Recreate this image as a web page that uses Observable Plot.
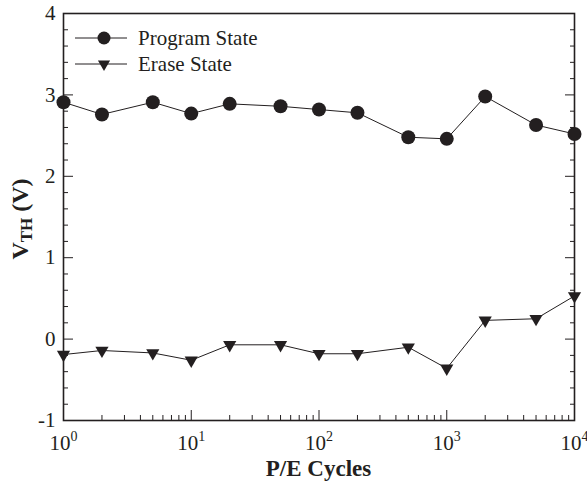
<!DOCTYPE html>
<html><head><meta charset="utf-8">
<script src="https://cdn.jsdelivr.net/npm/d3@7"></script>
<script src="https://cdn.jsdelivr.net/npm/@observablehq/plot@0.6"></script>
<style>html,body{margin:0;padding:0;background:#fff} svg{display:block}
svg text, svg tspan{font-family:"Liberation Serif","Times New Roman",Times,serif !important;}</style>
</head><body><div id="chart"></div>
<script>
// ---- data ----
const cycles = [1, 2, 5, 10, 20, 50, 100, 200, 500, 1000, 2000, 5000, 10000];
const programState = [2.91, 2.76, 2.91, 2.77, 2.89, 2.86, 2.82, 2.78, 2.48, 2.46, 2.98, 2.63, 2.52];
const eraseState = [-0.19, -0.14, -0.17, -0.26, -0.07, -0.07, -0.18, -0.18, -0.10, -0.36, 0.23, 0.25, 0.53];
const seriesNames = ["Program State", "Erase State"];
const xMajorTicks = [1, 10, 100, 1000, 10000];
const xTickBase = "10";
const xTickExponents = ["0", "1", "2", "3", "4"];
const yMajorTicks = [-1, 0, 1, 2, 3, 4];
const yTickLabels = ["-1", "0", "1", "2", "3", "4"];
const xTitle = "P/E Cycles";
const yTitleMain = "V";
const yTitleSub = "TH";
const yTitleUnit = " (V)";

// minor tick positions (axis decoration)
const xMinorTicks = [];
for (const dec of [1, 10, 100, 1000]) for (let m = 2; m <= 9; m++) xMinorTicks.push(m * dec);
const yMinorTicks = d3.range(-5, 21).map(i => i / 5).filter(v => !Number.isInteger(v));

const rows = [];
cycles.forEach((c, i) => rows.push({x: c, y: programState[i], s: seriesNames[0]}));
cycles.forEach((c, i) => rows.push({x: c, y: eraseState[i], s: seriesNames[1]}));
const progRows = rows.filter(d => d.s === seriesNames[0]);
const eraseRows = rows.filter(d => d.s === seriesNames[1]);

const ink = "#231f20";
const FONT = "Liberation Serif";

const plot = Plot.plot({
  width: 587, height: 482,
  marginLeft: 63, marginRight: 13, marginTop: 13, marginBottom: 62,
  style: {fontFamily: FONT, fontSize: "20px", color: ink, background: "#fff", overflow: "visible"},
  x: {type: "log", domain: [1, 10000]},
  y: {domain: [-1, 4]},
  marks: [
    Plot.axisX(xMajorTicks, {tickSize: -10, fill: "none", label: null, stroke: ink, strokeWidth: 1}),
    Plot.axisX(xMinorTicks, {tickSize: -5, fill: "none", label: null, stroke: ink, strokeWidth: 1}),
    Plot.axisX(xMajorTicks, {tickSize: 0, tickPadding: 15, fontSize: 21, fontFamily: FONT, fill: ink, label: null,
      tickFormat: d => xTickBase + "^" + xTickExponents[xMajorTicks.indexOf(d)]}),
    Plot.axisY(yMajorTicks, {tickSize: -10, fill: "none", label: null, stroke: ink, strokeWidth: 1}),
    Plot.axisY(yMinorTicks, {tickSize: -5, fill: "none", label: null, stroke: ink, strokeWidth: 1}),
    Plot.axisY(yMajorTicks, {anchor: "right", tickSize: -10, fill: "none", label: null, stroke: ink, strokeWidth: 1}),
    Plot.axisY(yMinorTicks, {anchor: "right", tickSize: -5, fill: "none", label: null, stroke: ink, strokeWidth: 1}),
    Plot.axisY(yMajorTicks, {tickSize: 0, tickPadding: 8, fontSize: 21, fontFamily: FONT, fill: ink, label: null,
      tickFormat: d => yTickLabels[yMajorTicks.indexOf(d)]}),
    Plot.frame({stroke: ink, strokeWidth: 1.6}),
    Plot.line(rows, {x: "x", y: "y", z: "s", stroke: ink, strokeWidth: 1}),
    Plot.dot(progRows, {x: "x", y: "y", r: 7, symbol: "circle", fill: ink, stroke: "none"}),
    Plot.dot(eraseRows, {x: "x", y: "y", r: 4.9, symbol: "triangle", rotate: 180, fill: ink, stroke: "none"})
  ]
});
document.getElementById("chart").appendChild(plot);

const svg = d3.select(plot);
// superscript exponents on x tick labels
svg.selectAll('g[aria-label="x-axis tick label"] text').each(function() {
  const t = d3.select(this);
  const parts = t.text().split("^");
  t.text(null);
  t.append("tspan").text(parts[0]);
  t.append("tspan").attr("font-size", 14).attr("dy", "-9").text(parts[1]);
});

// axis titles
svg.append("text")
  .attr("x", 318.5).attr("y", 476)
  .attr("text-anchor", "middle")
  .attr("font-family", FONT).attr("font-size", 23).attr("font-weight", "bold").attr("fill", ink)
  .text(xTitle);
const yt = svg.append("text")
  .attr("transform", "translate(28,219) rotate(-90)")
  .attr("text-anchor", "middle")
  .attr("font-family", FONT).attr("font-size", 24).attr("font-weight", "bold").attr("fill", ink);
yt.append("tspan").text(yTitleMain);
yt.append("tspan").attr("font-size", 17).attr("dy", 4).text(yTitleSub);
yt.append("tspan").attr("dy", -4).text(yTitleUnit);

// legend
const leg = svg.append("g");
const legRows = [{y: 38, sym: "circle"}, {y: 64, sym: "triangle"}];
legRows.forEach((r, i) => {
  leg.append("line").attr("x1", 75).attr("x2", 127).attr("y1", r.y).attr("y2", r.y)
    .attr("stroke", ink).attr("stroke-width", 1);
  if (r.sym === "circle") {
    leg.append("circle").attr("cx", 104).attr("cy", r.y).attr("r", 6.5).attr("fill", ink);
  } else {
    leg.append("path").attr("d", d3.symbol(d3.symbolTriangle, 64)())
      .attr("transform", `translate(104,${r.y}) rotate(180)`).attr("fill", ink);
  }
  leg.append("text").attr("x", 138).attr("y", r.y + 7)
    .attr("text-anchor", "start").attr("font-family", FONT).attr("font-size", 21).attr("fill", ink)
    .text(seriesNames[i]);
});
</script>
</body></html>
